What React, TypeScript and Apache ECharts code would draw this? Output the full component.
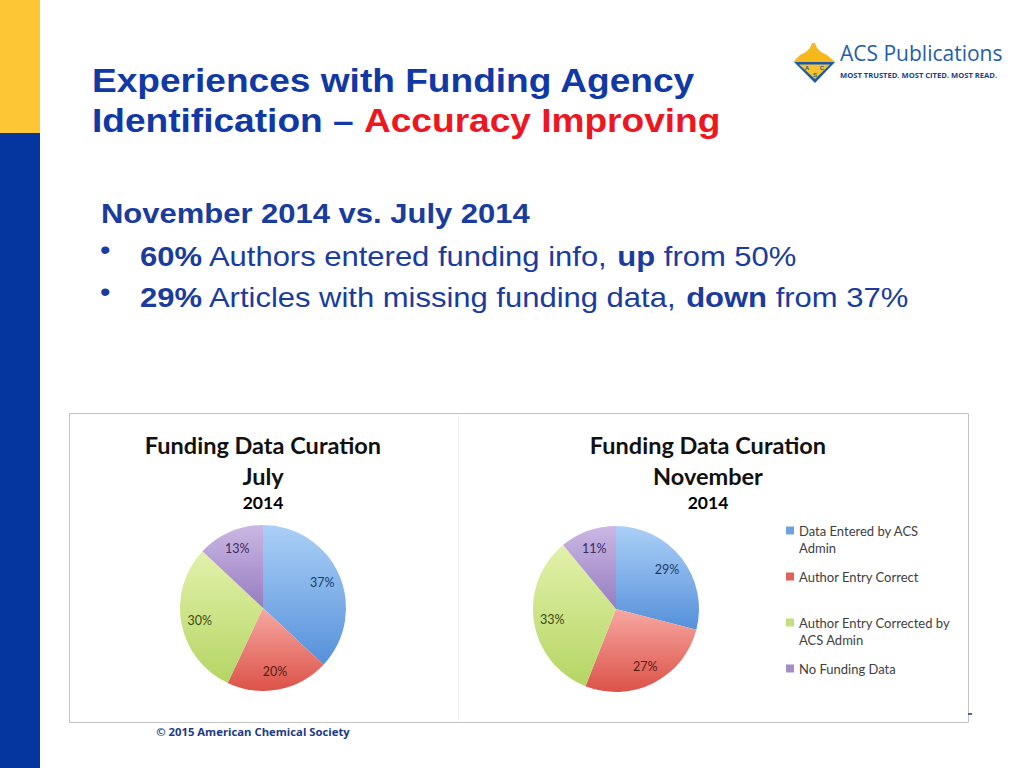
import React, { useEffect, useRef } from "react";
import * as echarts from "echarts";

const categories = [
  "Data Entered by ACS Admin",
  "Author Entry Correct",
  "Author Entry Corrected by ACS Admin",
  "No Funding Data",
];
const legendLabels = [
  "Data Entered by ACS\nAdmin",
  "Author Entry Correct",
  "Author Entry Corrected by\nACS Admin",
  "No Funding Data",
];
const julyValues = [37, 20, 30, 13];
const novemberValues = [29, 27, 33, 11];
const chartTitles = ["Funding Data Curation\nJuly", "Funding Data Curation\nNovember"];
const chartYear = "2014";

const gradTop = ["#acd0f7", "#f6a8a1", "#e2f1aa", "#cbb8e3"];
const gradBottom = ["#5590da", "#dc5248", "#b5d564", "#967cc0"];
const flatColors = ["#6fa3e0", "#e0625a", "#c4e07d", "#a38dc6"];
const labelColors = ["#1c3a66", "#5a1c16", "#3a4a14", "#3b2a5c"];

const FONT_CHART = "Lato, 'Open Sans', sans-serif";
const FONT_SLIDE = "'Liberation Sans', Arial, sans-serif";
const SLIDE_BLUE = "#1139a6";
const TEXT_BLUE = "#1a3c9e";
const SLIDE_RED = "#ee1620";
const STRETCH = 1.107;

function slices(values: number[]) {
  return values.map((v, i) => ({
    name: categories[i],
    value: v,
    itemStyle: {
      color: new echarts.graphic.LinearGradient(0, 0, 0, 1, [
        { offset: 0, color: gradTop[i] },
        { offset: 1, color: gradBottom[i] },
      ]),
    },
  }));
}

function labelSlices(values: number[]) {
  return values.map((v, i) => ({
    name: categories[i],
    value: v,
    label: { color: labelColors[i] },
  }));
}

export default function App() {
  const ref = useRef<HTMLDivElement>(null);
  useEffect(() => {
    if (!ref.current) return;
    const chart = echarts.init(ref.current, undefined, { renderer: "svg" });
    const pieBase = (center: number[], values: number[]) => ({
      type: "pie",
      center,
      radius: 83,
      startAngle: 90,
      clockwise: true,
      silent: true,
      z: 3,
      label: { show: false },
      labelLine: { show: false },
      data: slices(values),
    });
    const pieLabels = (center: number[], values: number[]) => ({
      type: "pie",
      center,
      radius: [40, 83],
      startAngle: 90,
      clockwise: true,
      silent: true,
      z: 4,
      itemStyle: { color: "rgba(0,0,0,0)" },
      label: {
        show: true,
        position: "inside",
        formatter: "{c}%",
        fontFamily: FONT_CHART,
        fontSize: 12.5,
      },
      labelLine: { show: false },
      data: labelSlices(values),
    });
    const chartTitle = (text: string, x: number) => ({
      text,
      subtext: chartYear,
      left: x,
      top: 429,
      textAlign: "center",
      itemGap: 0,
      padding: 0,
      textStyle: {
        fontFamily: FONT_CHART,
        fontSize: 23.5,
        fontWeight: "bold",
        lineHeight: 31,
        color: "#111",
      },
      subtextStyle: {
        fontFamily: FONT_CHART,
        fontSize: 17.5,
        fontWeight: "bold",
        lineHeight: 22,
        color: "#000",
      },
    });
    const slideText = (x: number, y: number, style: any) => ({
      type: "text",
      x,
      y,
      scaleX: STRETCH,
      style: { verticalAlign: "middle", ...style },
    });

    const option: any = {
      animation: false,
      backgroundColor: "#ffffff",
      title: [chartTitle(chartTitles[0], 263), chartTitle(chartTitles[1], 708)],
      legend: {
        orient: "vertical",
        left: 786,
        top: 505,
        padding: 0,
        itemGap: 6,
        itemWidth: 8,
        itemHeight: 8,
        selectedMode: false,
        icon: "rect",
        formatter: (name: string) => {
          const l = legendLabels[categories.indexOf(name)];
          return l.includes("\n") ? " \n" + l : l;
        },
        textStyle: {
          fontFamily: FONT_CHART,
          fontSize: 13,
          lineHeight: 17,
          color: "#404040",
        },
        data: categories.map((c, i) => ({
          name: c,
          itemStyle: { color: flatColors[i] },
          textStyle: legendLabels[i].includes("\n") ? {} : { padding: [6, 0, 6, 0] },
        })),
      },
      graphic: [
        { type: "rect", shape: { x: 0, y: 0, width: 40, height: 133 }, style: { fill: "#fdc634" } },
        { type: "rect", shape: { x: 0, y: 133, width: 40, height: 635 }, style: { fill: "#0536a0" } },
        slideText(92, 80.5, {
          text: "Experiences with Funding Agency",
          fontFamily: FONT_SLIDE,
          fontSize: 33.5,
          fontWeight: "bold",
          fill: SLIDE_BLUE,
        }),
        slideText(92, 120.5, {
          text: "{b|Identification – }{r|Accuracy Improving}",
          rich: {
            b: { fontFamily: FONT_SLIDE, fontSize: 33.5, fontWeight: "bold", fill: SLIDE_BLUE },
            r: { fontFamily: FONT_SLIDE, fontSize: 33.5, fontWeight: "bold", fill: SLIDE_RED },
          },
        }),
        slideText(101, 213.3, {
          text: "November 2014 vs. July 2014",
          fontFamily: FONT_SLIDE,
          fontSize: 28,
          fontWeight: "bold",
          fill: TEXT_BLUE,
        }),
        slideText(100, 250, { text: "•", fontFamily: FONT_SLIDE, fontSize: 27, fill: TEXT_BLUE }),
        slideText(100, 292, { text: "•", fontFamily: FONT_SLIDE, fontSize: 27, fill: TEXT_BLUE }),
        slideText(140, 256.2, {
          text: "{b|60%}{n| Authors entered funding info, }{b|up}{n| from 50%}",
          rich: {
            b: { fontFamily: FONT_SLIDE, fontSize: 28, fontWeight: "bold", fill: TEXT_BLUE },
            n: { fontFamily: FONT_SLIDE, fontSize: 28, fill: TEXT_BLUE },
          },
        }),
        slideText(140, 297, {
          text: "{b|29%}{n| Articles with missing funding data, }{b|down}{n| from 37%}",
          rich: {
            b: { fontFamily: FONT_SLIDE, fontSize: 28, fontWeight: "bold", fill: TEXT_BLUE },
            n: { fontFamily: FONT_SLIDE, fontSize: 28, fill: TEXT_BLUE },
          },
        }),
        // ACS logo
        {
          type: "polygon",
          shape: {
            points: [
              [793, 62], [800, 55], [806, 52], [810, 48], [812, 43], [815, 43], [817, 48],
              [821, 52], [827, 55], [835, 62],
            ],
          },
          style: { fill: "#f6b81c" },
        },
        {
          type: "polygon",
          shape: { points: [[794, 62], [835, 62], [815, 83]] },
          style: { fill: "#1b5aa9" },
        },
        {
          type: "polygon",
          shape: { points: [[799, 64.5], [830, 64.5], [815, 79]] },
          style: { fill: "#f6c230" },
        },
        { type: "text", x: 807, y: 68, style: { text: "A", fontSize: 6, fontWeight: "bold", fill: "#1b5aa9", align: "center", verticalAlign: "middle" } },
        { type: "text", x: 822, y: 68, style: { text: "C", fontSize: 6, fontWeight: "bold", fill: "#1b5aa9", align: "center", verticalAlign: "middle" } },
        { type: "text", x: 815, y: 75, style: { text: "S", fontSize: 6, fontWeight: "bold", fill: "#1b5aa9", align: "center", verticalAlign: "middle" } },
        {
          type: "text",
          x: 840,
          y: 53,
          style: {
            text: "ACS Publications",
            fontFamily: "'Open Sans', sans-serif",
            fontSize: 21,
            fill: "#1f5dab",
            verticalAlign: "middle",
          },
        },
        {
          type: "text",
          x: 840,
          y: 75,
          style: {
            text: "MOST TRUSTED. MOST CITED. MOST READ.",
            fontFamily: "'Open Sans', sans-serif",
            fontSize: 7.6,
            fontWeight: "bold",
            fill: "#1b3f8a",
            verticalAlign: "middle",
          },
        },
        // chart image frame
        {
          type: "rect",
          z: -10,
          shape: { x: 69.5, y: 413.5, width: 899, height: 309 },
          style: { fill: "#ffffff", stroke: "#c4c4c4", lineWidth: 1 },
        },
        {
          type: "line",
          z: -9,
          shape: { x1: 458.5, y1: 415, x2: 458.5, y2: 721 },
          style: { stroke: "#f0f0f0", lineWidth: 1 },
        },
        {
          type: "rect",
          shape: { x: 968, y: 713, width: 4, height: 2 },
          style: { fill: "#4a6a9a" },
        },
        {
          type: "text",
          x: 253,
          y: 731,
          style: {
            text: "© 2015 American Chemical Society",
            fontFamily: "'Open Sans', sans-serif",
            fontSize: 11.3,
            fontWeight: "bold",
            fill: "#1c3a86",
            align: "center",
            verticalAlign: "middle",
          },
        },
      ],
      series: [
        pieBase([263, 608], julyValues),
        pieLabels([263, 608], julyValues),
        pieBase([616, 609], novemberValues),
        pieLabels([616, 609], novemberValues),
      ],
    };
    chart.setOption(option);
    return () => chart.dispose();
  }, []);
  return (
    <div
      ref={ref}
      style={{ position: "absolute", left: 0, top: 0, width: 1024, height: 768 }}
    />
  );
}
